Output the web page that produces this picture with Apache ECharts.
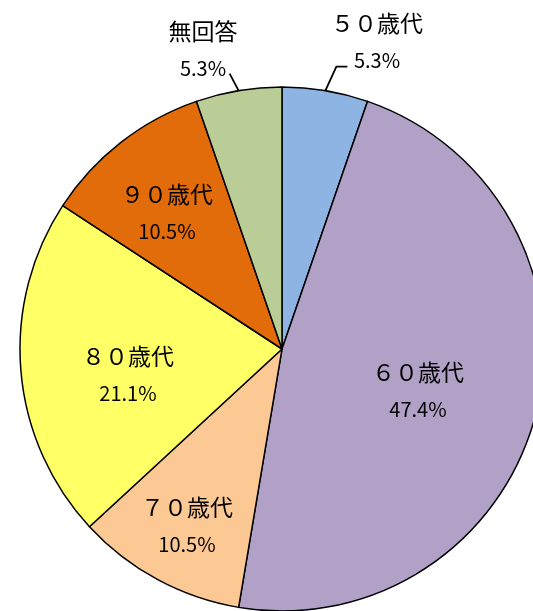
<!DOCTYPE html>
<html>
<head>
<meta charset="utf-8">
<script src="https://cdn.jsdelivr.net/npm/echarts@6/dist/echarts.min.js"></script>
<style>
  html, body { margin: 0; padding: 0; background: #fff; }
  #chart { width: 533px; height: 611px; }
</style>
</head>
<body>
<div id="chart"></div>
<script>
// 年代別の割合
const categories = ["５０歳代", "６０歳代", "７０歳代", "８０歳代", "９０歳代", "無回答"];
const percents = [5.3, 47.4, 10.5, 21.1, 10.5, 5.3];
const colors = ["#8DB4E2", "#B2A1C7", "#FCC894", "#FFFF66", "#E36C0A", "#BBCD96"];
const outsideLabels = ["５０歳代", "無回答"];

// label centres (layout only)
const labelPos = [
  [377, 41], [418, 390], [187, 525], [128, 374], [167, 212], [203, 49]
];

const chart = echarts.init(document.getElementById("chart"));

chart.setOption({
  animation: false,
  series: [
    {
      type: "pie",
      center: [282, 349],
      radius: 262,
      startAngle: 90,
      clockwise: true,
      avoidLabelOverlap: false,
      itemStyle: {
        borderColor: "#000",
        borderWidth: 1.5,
      },
      label: {
        position: "inside",
        formatter: (p) => "{n|" + p.name + "}\n{v|" + p.value.toFixed(1) + "%}",
        rich: {
          n: { fontSize: 23, lineHeight: 38, color: "#000", fontFamily: "Noto Sans CJK JP" },
          v: { fontSize: 20, lineHeight: 36, color: "#000", fontFamily: "Noto Sans CJK JP" },
        },
      },
      labelLayout: (params) => {
        const i = params.dataIndex;
        const pos = labelPos[i];
        const res = { x: pos[0], y: pos[1], align: "center", verticalAlign: "middle" };
        const pts = params.labelLinePoints;
        if (pts && outsideLabels.includes(categories[i])) {
          const e = pts[0];
          if (i === 0) {
            res.labelLinePoints = [[e[0], e[1]], [e[0] + 11, e[1] - 24], [e[0] + 22, e[1] - 24]];
          } else {
            res.labelLinePoints = [[e[0], e[1]], [e[0] - 4.5, e[1] - 8.5], [e[0] - 9, e[1] - 17]];
          }
        }
        return res;
      },
      data: categories.map((name, i) => {
        const outside = outsideLabels.includes(name);
        return {
          name: name,
          value: percents[i],
          itemStyle: { color: colors[i] },
          label: { position: outside ? "outside" : "inside" },
          labelLine: {
            show: outside,
            length: 8,
            length2: 8,
            lineStyle: { color: "#000", width: 1.8 },
          },
        };
      }),
    },
  ],
});
</script>
</body>
</html>
